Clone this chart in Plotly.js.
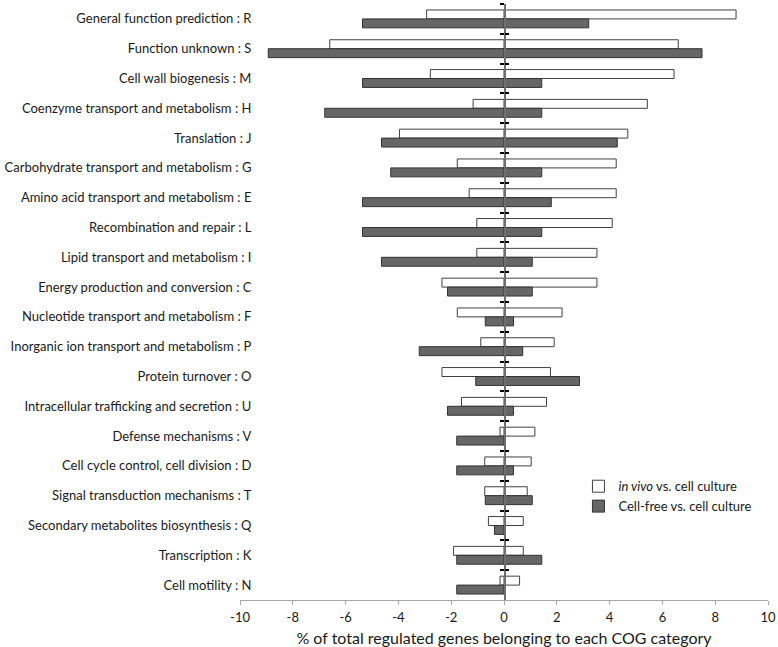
<!DOCTYPE html>
<html>
<head>
<meta charset="utf-8">
<script src="https://cdn.plot.ly/plotly-3.0.1.min.js"></script>
<style>html,body{margin:0;padding:0;background:#fff;}#chart{width:778px;height:647px;}</style>
</head>
<body>
<div id="chart"></div>
<script>
var categories = [
  "General function prediction : R",
  "Function unknown : S",
  "Cell wall biogenesis : M",
  "Coenzyme transport and metabolism : H",
  "Translation : J",
  "Carbohydrate transport and metabolism : G",
  "Amino acid transport and metabolism : E",
  "Recombination and repair : L",
  "Lipid transport and metabolism : I",
  "Energy production and conversion : C",
  "Nucleotide transport and metabolism : F",
  "Inorganic ion transport and metabolism : P",
  "Protein turnover : O",
  "Intracellular trafficking and secretion : U",
  "Defense mechanisms : V",
  "Cell cycle control, cell division : D",
  "Signal transduction mechanisms : T",
  "Secondary metabolites biosynthesis : Q",
  "Transcription : K",
  "Cell motility : N"
];
var invivoNeg = [-2.93,-6.60,-2.79,-1.17,-3.96,-1.77,-1.32,-1.03,-1.03,-2.35,-1.77,-0.88,-2.35,-1.61,-0.15,-0.73,-0.73,-0.59,-1.91,-0.15];
var invivoPos = [8.79,6.60,6.44,5.43,4.69,4.25,4.25,4.10,3.52,3.52,2.20,1.90,1.76,1.61,1.17,1.03,0.88,0.73,0.73,0.59];
var cellfreeNeg = [-5.36,-8.93,-5.36,-6.79,-4.64,-4.29,-5.36,-5.36,-4.64,-2.14,-0.71,-3.21,-1.07,-2.14,-1.79,-1.79,-0.71,-0.36,-1.79,-1.79];
var cellfreePos = [3.21,7.50,1.43,1.43,4.29,1.43,1.79,1.43,1.07,1.07,0.36,0.71,2.86,0.36,0,0.36,1.07,0,1.43,0];
var xTicks = [-10,-8,-6,-4,-2,0,2,4,6,8,10];

var whiteStyle = {color:'#ffffff', line:{color:'#404040', width:1}};
var greyStyle = {color:'#666666', line:{color:'#333333', width:1}};
var FONT = 'Lato, "Open Sans", sans-serif';

var traces = [
  {type:'bar', orientation:'h', y:categories, x:invivoPos, name:'<i>in vivo</i> vs. cell culture',
   marker:whiteStyle, offsetgroup:'a', legendgroup:'a', hoverinfo:'x+y'},
  {type:'bar', orientation:'h', y:categories, x:invivoNeg, name:'in vivo neg',
   marker:whiteStyle, offsetgroup:'a', legendgroup:'a', showlegend:false, hoverinfo:'x+y'},
  {type:'bar', orientation:'h', y:categories, x:cellfreePos, name:'Cell-free vs. cell culture',
   marker:greyStyle, offsetgroup:'b', legendgroup:'b', hoverinfo:'x+y'},
  {type:'bar', orientation:'h', y:categories, x:cellfreeNeg, name:'cell-free neg',
   marker:greyStyle, offsetgroup:'b', legendgroup:'b', showlegend:false, hoverinfo:'x+y'},
  {type:'scatter', mode:'markers', y:categories, x:categories.map(function(){return 0;}), yaxis:'y2',
   marker:{opacity:0}, showlegend:false, hoverinfo:'skip'}
];

var layout = {
  width:778, height:647,
  margin:{l:240, r:10, t:4, b:47},
  paper_bgcolor:'#ffffff', plot_bgcolor:'#ffffff',
  font:{family:FONT, size:13, color:'#1a1a1a'},
  barmode:'group', bargap:0.4, bargroupgap:0,
  showlegend:true,
  legend:{x:0.641, y:0.216, xanchor:'left', yanchor:'top', traceorder:'normal',
          font:{family:FONT, size:13, color:'#1a1a1a'}, bgcolor:'rgba(0,0,0,0)',
          itemwidth:30, tracegroupgap:0},
  xaxis:{range:[-10,10], tickvals:xTicks, ticktext:xTicks.map(String),
         showgrid:false, zeroline:false, showline:true, linecolor:'#a6a6a6', linewidth:1,
         ticks:'outside', ticklen:4, tickcolor:'#a6a6a6', ticklabelstandoff:1,
         tickfont:{family:FONT, size:13, color:'#1a1a1a'},
         title:{text:'% of total regulated genes belonging to each COG category',
                font:{family:FONT, size:16, color:'#1a1a1a'}, standoff:10}},
  yaxis:{type:'category', range:[19.5,-0.5], anchor:'free', position:0.5,
         showgrid:false, zeroline:false, showline:true, linecolor:'#6f6f6f', linewidth:1.5,
         ticks:'outside', ticklen:4, tickwidth:2, tickcolor:'#000000', tickson:'boundaries',
         ticklabelstandoff:250,
         tickfont:{family:FONT, size:13, color:'#1a1a1a'}},
  yaxis2:{type:'category', overlaying:'y', matches:'y', anchor:'free', position:0.5, side:'left',
          showgrid:false, zeroline:false, showline:false, showticklabels:false,
          ticks:'inside', ticklen:4, tickwidth:2, tickcolor:'#000000', tickson:'boundaries'}
};

Plotly.newPlot('chart', traces, layout, {displayModeBar:false, staticPlot:true});
</script>
</body>
</html>
